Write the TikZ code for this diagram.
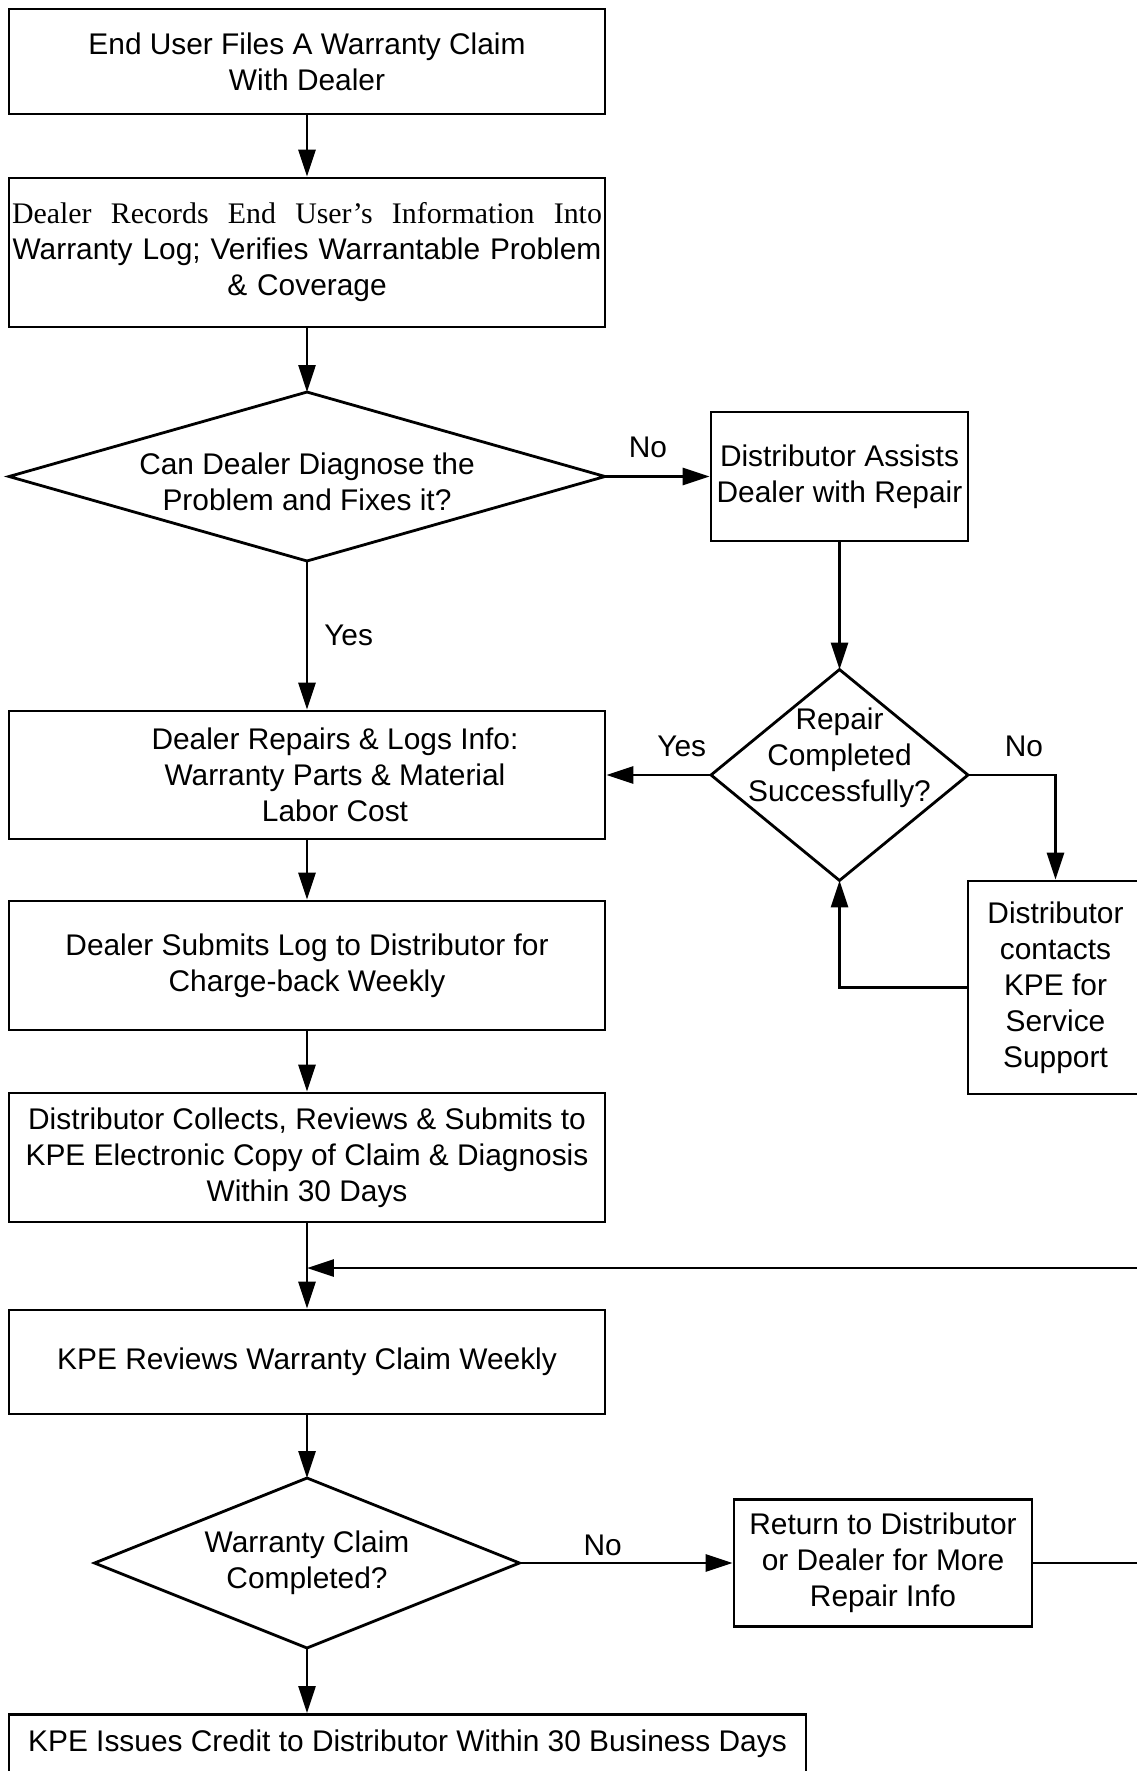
\documentclass[tikz,border=0pt]{standalone}
\usepackage{fontspec}
\setmainfont{Liberation Sans}
\newfontfamily\serifpart{Liberation Serif}
\usetikzlibrary{shapes.geometric,arrows.meta}

\begin{document}
\begin{tikzpicture}[x=0.02cm, y=-0.02cm,
    every node/.style={font=\fontsize{17}{20.5}\selectfont},
    procbox/.style={draw, line width=1.6pt, align=center, inner sep=0pt},
    decision/.style={draw, diamond, line width=1.6pt, inner sep=0pt, outer sep=0pt},
    flowline/.style={line width=1.6pt, -{Triangle[length=0.54cm, width=0.34cm]}}]

    \useasboundingbox (0,0) rectangle (1136,1771);

    % main column
    \node[procbox, minimum width=11.92cm, minimum height=2.1cm] (claim) at (307,61.5)
        {End User Files A Warranty Claim\\With Dealer};
    \node[procbox, minimum width=11.92cm, minimum height=2.98cm, text width=11.8cm] (record) at (307,252.5)
        {\makebox[11.8cm][s]{\serifpart Dealer\hfill Records\hfill End\hfill User’s\hfill Information\hfill Into}\\
         Warranty Log; Verifies Warrantable Problem\\\& Coverage};
    \node[decision, minimum width=11.92cm, minimum height=3.38cm,
        label={[align=center, yshift=-0.1cm]center:Can Dealer Diagnose the\\Problem and Fixes it?}] (diagnose) at (307,476.5) {};
    \node[procbox, minimum width=11.92cm, minimum height=2.56cm,
        label={[align=center, xshift=0.56cm]center:Dealer Repairs \& Logs Info:\\Warranty Parts \& Material\\Labor Cost}] (repair) at (307,775) {};
    \node[procbox, minimum width=11.92cm, minimum height=2.58cm] (submit) at (307,965.5)
        {Dealer Submits Log to Distributor for\\Charge-back Weekly};
    \node[procbox, minimum width=11.92cm, minimum height=2.58cm] (collect) at (307,1157.5)
        {Distributor Collects, Reviews \& Submits to\\KPE Electronic Copy of Claim \& Diagnosis\\Within 30 Days};
    \node[procbox, minimum width=11.92cm, minimum height=2.08cm] (review) at (307,1362)
        {KPE Reviews Warranty Claim Weekly};
    \node[decision, minimum width=8.5cm, minimum height=3.4cm,
        label={[align=center]center:Warranty Claim\\Completed?}] (complete) at (307,1563) {};
    \node[procbox, anchor=north, minimum width=15.94cm, inner ysep=0.25cm,
        text height=0.5cm, text depth=1cm] (credit) at (407.5,1713)
        {KPE Issues Credit to Distributor Within 30 Business Days};

    % side column
    \node[procbox, minimum width=5.14cm, minimum height=2.58cm] (assist) at (839.5,476.5)
        {Distributor Assists\\Dealer with Repair};
    \node[decision, minimum width=5.14cm, minimum height=4.22cm,
        label={[align=center, yshift=0.34cm]center:Repair\\Completed\\Successfully?}] (success) at (839.5,775) {};
    \node[procbox, minimum width=3.5cm, minimum height=4.26cm] (contact) at (1055.5,987.5)
        {Distributor\\contacts\\KPE for\\Service\\Support};
    \node[procbox, minimum width=5.96cm, minimum height=2.54cm] (return) at (883,1563)
        {Return to Distributor\\or Dealer for More\\Repair Info};

    \coordinate (merge) at (307,1268);
    \coordinate (rightrail) at (1150,1268);

    % connectors
    \draw[flowline] (claim) -- (record);
    \draw[flowline] (record) -- (diagnose);
    \draw[flowline] (diagnose) -- node[above=0.22cm, pos=0.41] {No} (assist);
    \draw[flowline] (diagnose) -- node[right=0.2cm] {Yes} (repair);
    \draw[flowline] (assist) -- (success);
    \draw[flowline] (success) -- node[above=0.22cm, pos=0.28] {Yes} (repair);
    \draw[flowline] (success.east) -| node[above=0.22cm, pos=0.32] {No} (contact.north);
    \draw[flowline] (contact.west) -| (success.south);
    \draw[flowline] (repair) -- (submit);
    \draw[flowline] (submit) -- (collect);
    \draw[flowline] (collect) -- (review);
    \draw[flowline] (return.east) -| (rightrail) -- (merge);
    \draw[flowline] (review) -- (complete);
    \draw[flowline] (complete) -- node[above, pos=0.39] {No} (return);
    \draw[flowline] (complete.south) -- (complete.south |- credit.north);
\end{tikzpicture}
\end{document}
